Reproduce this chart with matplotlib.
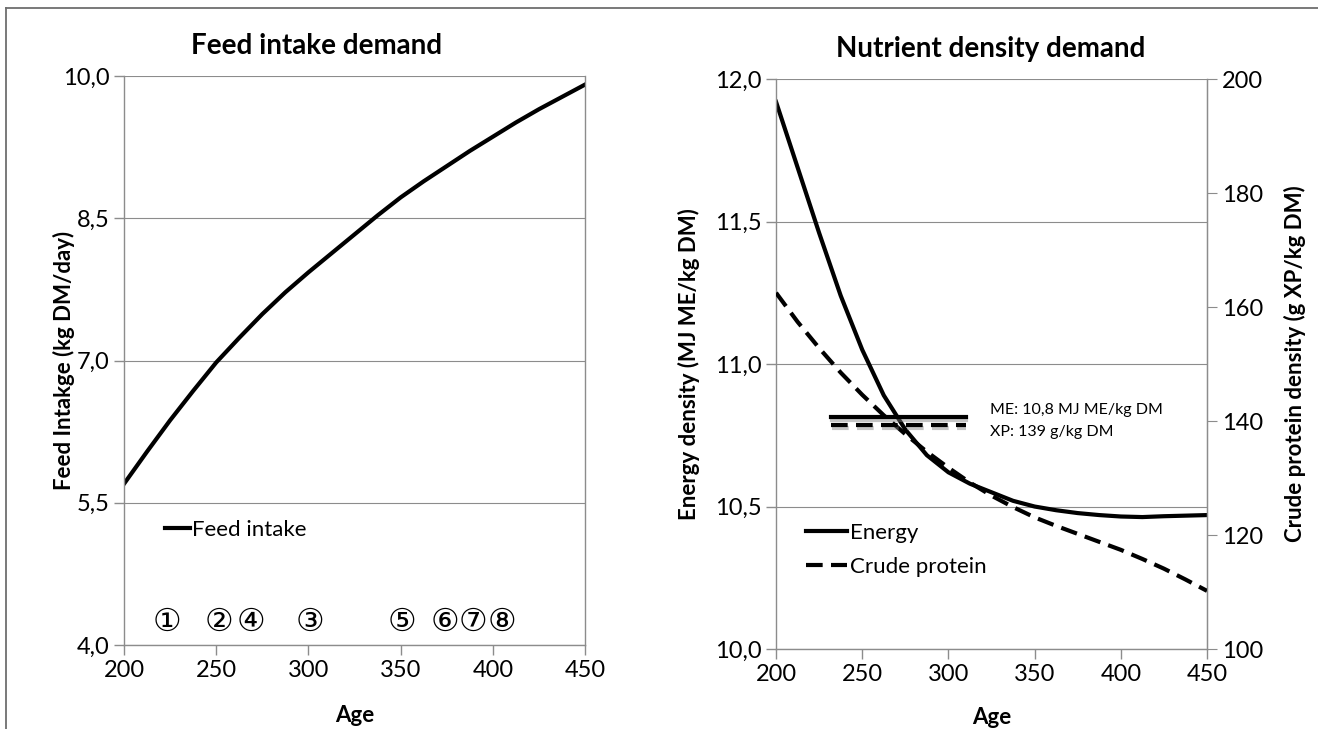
import matplotlib
matplotlib.use('Agg')
import matplotlib.pyplot as plt
import matplotlib.patheffects as pe
from matplotlib.lines import Line2D

plt.rcParams['font.family'] = ['Lato', 'DejaVu Sans']

# Feed intake demand (kg DM/day) by age
idade_fi = [200, 212.5, 225, 237.5, 250, 262.5, 275, 287.5, 300, 312.5, 325,
            337.5, 350, 362.5, 375, 387.5, 400, 412.5, 425, 437.5, 450]
feed_intake = [5.70, 6.04, 6.37, 6.68, 6.98, 7.24, 7.49, 7.72, 7.93, 8.13, 8.33,
               8.53, 8.72, 8.89, 9.05, 9.21, 9.36, 9.51, 9.65, 9.78, 9.91]

# Nutrient density demand by age
idade_nd = [200, 212.5, 225, 237.5, 250, 262.5, 275, 287.5, 300, 312.5, 325,
            337.5, 350, 362.5, 375, 387.5, 400, 412.5, 425, 437.5, 450]
energia = [11.92, 11.69, 11.46, 11.24, 11.05, 10.89, 10.77, 10.68, 10.62, 10.58, 10.55,
           10.52, 10.50, 10.487, 10.477, 10.47, 10.465, 10.463, 10.466, 10.468, 10.47]
proteina = [162.5, 157.4, 152.8, 148.5, 144.6, 141.0, 137.7, 134.6, 131.8, 129.2, 126.9,
            124.9, 123.1, 121.6, 120.2, 118.8, 117.4, 115.8, 114.1, 112.2, 110.2]

# Reference levels (ME and XP)
ref_idade = [232, 310]
ref_me = 10.815
ref_xp = 139.3

# Circled labels on the feed intake chart
marcas = ['①', '②', '④', '③', '⑤', '⑥', '⑦', '⑧']
marcas_idade = [223.3, 251.5, 269, 301, 350.8, 374, 389.3, 405]

CINZA = '#8c8c8c'
TICK = 17
LABEL = 16
TRACO = (0, (4, 2))
sombra = [pe.SimpleLineShadow(offset=(0.5, -2), shadow_color='#808080', alpha=0.45),
          pe.Normal()]
fig = plt.figure(figsize=(13.18, 7.29), dpi=100)


def estilo_eixo(ax):
    for lado in ['left', 'bottom', 'right']:
        ax.spines[lado].set_color(CINZA)
        ax.spines[lado].set_linewidth(1.0)
    ax.spines['top'].set_visible(False)
    ax.tick_params(axis='both', colors=CINZA, labelcolor='black', labelsize=TICK,
                   length=7, width=1.0, direction='out')
    ax.grid(True, axis='y', color=CINZA, linewidth=0.8)
    ax.set_axisbelow(True)


# Grafico 1: Feed intake
ax1 = fig.add_axes([0.0941, 0.1152, 0.3498, 0.7805])
estilo_eixo(ax1)
ax1.plot(idade_fi, feed_intake, color='black', linewidth=3, label='Feed intake')
ax1.set_xlim(200, 450)
ax1.set_ylim(4.0, 10.0)
ax1.set_xticks([200, 250, 300, 350, 400, 450])
ax1.set_yticks([4.0, 5.5, 7.0, 8.5, 10.0])
ax1.set_yticklabels(['4,0', '5,5', '7,0', '8,5', '10,0'])
ax1.tick_params(axis='y', right=False)
fig.text(317 / 1318, 1 - 46 / 729, 'Feed intake demand', ha='center', va='center',
         fontsize=20, fontweight='bold')
ax1.set_xlabel('Age', fontsize=LABEL, fontweight='bold')
ax1.xaxis.set_label_coords(0.5, -0.106)
ax1.set_ylabel('Feed Intakge (kg DM/day)', fontsize=LABEL, fontweight='bold')
ax1.yaxis.set_label_coords(-0.106, 0.5)
ax1.legend(loc='center left', bbox_to_anchor=(0.089, 0.202), frameon=False, fontsize=16,
           handlelength=1.1, handletextpad=0.1, borderpad=0, borderaxespad=0)
for m, a in zip(marcas, marcas_idade):
    ax1.text(a, 4.24, m, ha='center', va='center', fontsize=23,
             family=['DejaVu Sans', 'Noto Sans CJK JP'])

# Grafico 2: Nutrient density
ax2 = fig.add_axes([0.5888, 0.1097, 0.3270, 0.7819])
estilo_eixo(ax2)
ax2.plot(idade_nd, energia, color='black', linewidth=3, label='Energy')
ax2.plot(ref_idade, [ref_me, ref_me], color='black', linewidth=3, path_effects=sombra)
ax2.set_xlim(200, 450)
ax2.set_ylim(10.0, 12.0)
ax2.set_xticks([200, 250, 300, 350, 400, 450])
ax2.set_yticks([10.0, 10.5, 11.0, 11.5, 12.0])
ax2.set_yticklabels(['10,0', '10,5', '11,0', '11,5', '12,0'])
fig.text(991 / 1318, 1 - 49 / 729, 'Nutrient density demand', ha='center', va='center',
         fontsize=20, fontweight='bold')
ax2.set_xlabel('Age', fontsize=LABEL, fontweight='bold')
ax2.xaxis.set_label_coords(0.5, -0.101)
ax2.set_ylabel('Energy density (MJ ME/kg DM)', fontsize=LABEL, fontweight='bold')
ax2.yaxis.set_label_coords(-0.176, 0.5)

ax3 = ax2.twinx()
ax3.plot(idade_nd, proteina, color='black', linewidth=3, linestyle=TRACO,
         label='Crude protein')
ax3.plot(ref_idade, [ref_xp, ref_xp], color='black', linewidth=3, linestyle=TRACO,
         path_effects=sombra)
ax3.set_ylim(100, 200)
ax3.set_yticks([100, 120, 140, 160, 180, 200])
for lado in ['left', 'top', 'bottom']:
    ax3.spines[lado].set_visible(False)
ax3.spines['right'].set_color(CINZA)
ax3.tick_params(axis='y', colors=CINZA, labelcolor='black', labelsize=TICK, length=7)
ax3.set_ylabel('Crude protein density (g XP/kg DM)', fontsize=LABEL, fontweight='bold')
ax3.yaxis.set_label_coords(1.179, 0.5)

ax2.text(324, 10.839, 'ME: 10,8 MJ ME/kg DM', fontsize=11.5, va='center')
ax2.text(324, 10.761, 'XP: 139 g/kg DM', fontsize=11.5, va='center')

linhas = ax2.get_lines()[:1] + ax3.get_lines()[:1]
ax2.legend(linhas, [l.get_label() for l in linhas], loc='center left',
           bbox_to_anchor=(0.07, 0.174), frameon=False, fontsize=16,
           handlelength=1.85, handletextpad=0.1, labelspacing=0.65,
           borderpad=0, borderaxespad=0)

# Moldura externa (topo e esquerda)
fig.add_artist(Line2D([6 / 1318, 1.0], [1 - 8 / 729, 1 - 8 / 729], color='#6e6e6e',
                      linewidth=1.3))
fig.add_artist(Line2D([6 / 1318, 6 / 1318], [0, 1 - 8 / 729], color='#6e6e6e',
                      linewidth=1.3))

fig.savefig('out.png', dpi=100)
plt.close(fig)
